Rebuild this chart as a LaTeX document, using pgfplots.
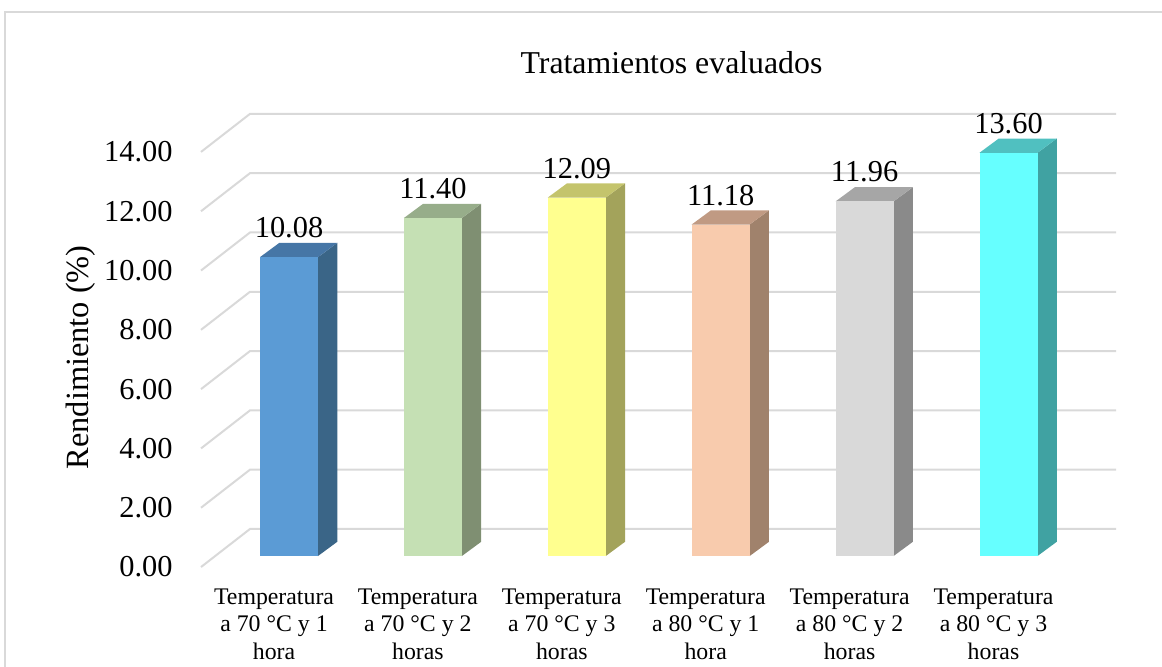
\documentclass[border=0pt]{standalone}
\usepackage{pgfplots}
\usepackage{pgfplotstable}
\pgfplotsset{compat=1.18}
\usepackage{fontspec}
\setmainfont{Liberation Serif}

% bar colours: front, top and side faces
\definecolor{fr0}{HTML}{5B9BD5}\definecolor{tp0}{HTML}{4676A6}\definecolor{sd0}{HTML}{3A6587}
\definecolor{fr1}{HTML}{C5E0B4}\definecolor{tp1}{HTML}{97AD8A}\definecolor{sd1}{HTML}{7F8F72}
\definecolor{fr2}{HTML}{FFFF8F}\definecolor{tp2}{HTML}{C4C46C}\definecolor{sd2}{HTML}{A3A35B}
\definecolor{fr3}{HTML}{F8CBAD}\definecolor{tp3}{HTML}{C09A83}\definecolor{sd3}{HTML}{A0826C}
\definecolor{fr4}{HTML}{D9D9D9}\definecolor{tp4}{HTML}{A6A6A6}\definecolor{sd4}{HTML}{8A8A8A}
\definecolor{fr5}{HTML}{66FFFF}\definecolor{tp5}{HTML}{50C0C0}\definecolor{sd5}{HTML}{40A2A2}
\definecolor{gridc}{HTML}{D9D9D9}

\pgfplotstableread{
idx val
0 10.08
1 11.40
2 12.09
3 11.18
4 11.96
5 13.60
}\rendtable

% oblique depth of a bar (x in category units, y in value units)
\def\hw{0.2015}
\def\ddx{0.134}
\def\ddy{0.48}

\begin{document}
\begin{tikzpicture}
\path[use as bounding box] (0,0) rectangle (581pt,333pt);
\draw[gridc, line width=1pt] (2.5pt,-2pt) -- (2.5pt,326.75pt) -- (583pt,326.75pt);
\begin{axis}[
  x=71.95pt, y=14.825pt,
  anchor=origin, at={(144.5pt,55pt)},
  xmin=-0.6115, xmax=5.747, ymin=-0.372, ymax=14.912,
  clip=false,
  axis line style={draw=none},
  major tick length=0pt,
  /pgf/number format/.cd, fixed, fixed zerofill, precision=2, assume math mode=true,
  /pgfplots/.cd,
  ytick={0,2,...,14},
  yticklabel style={anchor=east, inner sep=0pt, xshift=-14pt, yshift=-5.5pt,
    font=\fontsize{15.2}{18}\selectfont},
  xtick={0,...,5},
  xticklabels={{Temperatura\\a 70 °C y 1\\hora},{Temperatura\\a 70 °C y 2\\horas},
    {Temperatura\\a 70 °C y 3\\horas},{Temperatura\\a 80 °C y 1\\hora},
    {Temperatura\\a 80 °C y 2\\horas},{Temperatura\\a 80 °C y 3\\horas}},
  xticklabel style={anchor=north, align=center, inner sep=0pt, xshift=-7.5pt, yshift=-10.5pt,
    font=\fontsize{11.9}{13.75}\selectfont},
  ylabel={Rendimiento (\%)},
  ylabel style={at={(axis cs:-1.445,6.7)}, anchor=center, rotate=0,
    font=\fontsize{16.2}{19}\selectfont},
  title={Tratamientos evaluados},
  title style={at={(axis description cs:0.5142,1.062)}, anchor=base,
    font=\fontsize{15.9}{19}\selectfont},
]
% skewed gridlines: front-left edge, side wall and back wall
\pgfplotsinvokeforeach{0,2,...,14}{
  \pgfmathsetmacro\ga{#1-0.372}
  \pgfmathsetmacro\gb{#1+0.912}
  \addplot[gridc, line width=1pt] coordinates {(-0.6115,\ga) (-0.271,\gb) (5.747,\gb)};
}
% bars with top and side faces
\pgfplotsinvokeforeach{0,...,5}{
  \pgfplotstablegetelem{#1}{val}\of\rendtable
  \let\v\pgfplotsretval
  \pgfmathsetmacro\xl{#1-\hw}
  \pgfmathsetmacro\xr{#1+\hw}
  \pgfmathsetmacro\xlb{#1-\hw+\ddx}
  \pgfmathsetmacro\xrb{#1+\hw+\ddx}
  \pgfmathsetmacro\vb{\v+\ddy}
  \addplot[fill=sd#1, draw=none] coordinates {(\xr,0) (\xr,\v) (\xrb,\vb) (\xrb,\ddy)} -- cycle;
  \addplot[fill=tp#1, draw=none] coordinates {(\xl,\v) (\xr,\v) (\xrb,\vb) (\xlb,\vb)} -- cycle;
  \addplot[ybar, bar width=29pt, bar shift=0pt, fill=fr#1, draw=none,
    nodes near coords,
    nodes near coords style={anchor=base, yshift=9.75pt, font=\fontsize{15.2}{18}\selectfont}]
    coordinates {(#1,\v)};
}
\end{axis}
\end{tikzpicture}
\end{document}
